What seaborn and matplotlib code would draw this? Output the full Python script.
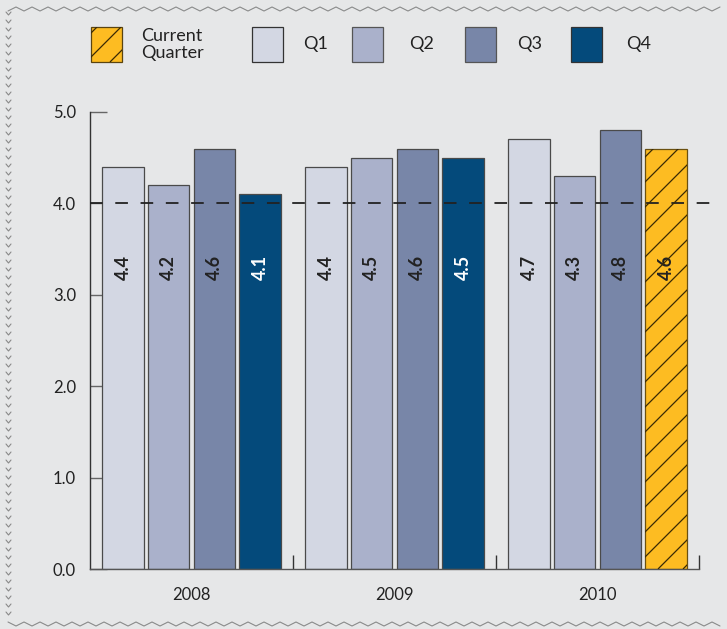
import numpy as np
import pandas as pd
import matplotlib
matplotlib.use("Agg")
import matplotlib.pyplot as plt
from matplotlib.patches import Rectangle
from matplotlib.lines import Line2D
from matplotlib.collections import LineCollection
from matplotlib.transforms import IdentityTransform
import seaborn as sns

years = ["2008", "2009", "2010"]
quarters = ["Q1", "Q2", "Q3", "Q4"]
values_2008 = [4.4, 4.2, 4.6, 4.1]
values_2009 = [4.4, 4.5, 4.6, 4.5]
values_2010 = [4.7, 4.3, 4.8, 4.6]
y_ticks = [0.0, 1.0, 2.0, 3.0, 4.0, 5.0]
target = 4.0
current_year, current_quarter = "2010", "Q4"
legend_labels = ["Current\nQuarter", "Q1", "Q2", "Q3", "Q4"]

df = pd.DataFrame({
    "year": np.repeat(years, 4),
    "quarter": quarters * 3,
    "value": values_2008 + values_2009 + values_2010,
})

colors = {"Q1": "#d3d7e3", "Q2": "#aab1cb", "Q3": "#7886a8", "Q4": "#044a7b"}
cur_color = "#fdbc22"
hatch_color = "#3a2a05"
bg = "#e6e7e8"

sns.set_theme(style="white")
plt.rcParams["font.family"] = ["Lato", "DejaVu Sans"]

W, H = 727, 629
fig = plt.figure(figsize=(W / 100, H / 100), dpi=100, facecolor=bg)

def fx(px):
    return px / W

def fy(py):
    return 1 - py / H

def sparse_hatch(patch, spacing=25, offset=0, lw=0.9):
    """Draw sparse 45-degree hatch lines clipped to a patch (display coords)."""
    fig.canvas.draw()
    bb = patch.get_window_extent()
    x0, y0, x1, y1 = bb.x0, bb.y0, bb.x1, bb.y1
    h = y1 - y0
    segs = []
    c = x0 - h + offset
    while c < x1 + h:
        segs.append([(c, y0), (c + h, y1)])
        c += spacing
    lc = LineCollection(segs, colors=hatch_color, linewidths=lw,
                        transform=IdentityTransform(), zorder=patch.get_zorder() + 0.1)
    fig.add_artist(lc)
    lc.set_clip_path(patch)

ax_l, ax_r, ax_b, ax_t = 90, 715, 569, 112
ax = fig.add_axes([fx(ax_l), fy(ax_b), fx(ax_r) - fx(ax_l), fy(ax_t) - fy(ax_b)])
ax.set_facecolor(bg)

sns.barplot(data=df, x="year", y="value", hue="quarter", order=years,
            hue_order=quarters, palette=colors, width=0.9, gap=0.1,
            dodge=True, legend=False, ax=ax, edgecolor="#4a4a4a", linewidth=0.9,
            saturation=1)

xl = -0.5 + (ax_r - ax_l) / 203
ax.set_xlim(-0.5, xl)
ax.set_ylim(0, 5.0)

cur_bar = None
for container, q in zip(ax.containers, quarters):
    for bar, yr in zip(container, years):
        val = bar.get_height()
        is_cur = (yr == current_year and q == current_quarter)
        if is_cur:
            bar.set_facecolor(cur_color)
            bar.set_edgecolor("#6a5010")
            cur_bar = bar
        tc = "white" if (q == "Q4" and not is_cur) else "#222222"
        ax.text(bar.get_x() + bar.get_width() / 2, 3.3, f"{val:.1f}",
                rotation=90, ha="center", va="center", color=tc,
                fontsize=13, fontweight="bold", zorder=6)

ax.axhline(target, color="#222222", lw=1.3, ls=(0, (7, 7)), zorder=5)

for s in ["top", "right"]:
    ax.spines[s].set_visible(False)
ax.spines["left"].set_color("#333333")
ax.spines["left"].set_linewidth(1.0)
ax.spines["bottom"].set_color("#555555")
ax.spines["bottom"].set_linewidth(1.0)
ax.spines["bottom"].set_bounds(-0.5, 2.5)

ax.set_yticks(y_ticks)
ax.set_yticklabels([f"{t:.1f}" for t in y_ticks], fontsize=12, color="#222222")
ax.tick_params(axis="y", direction="in", length=12, width=1.0, color="#666666",
               pad=10, left=True)
ax.set_xticks([0, 1, 2])
ax.set_xticklabels(years, fontsize=12, color="#222222")
ax.tick_params(axis="x", which="major", length=0, pad=13)
ax.set_xticks([0.5, 1.5, 2.5], minor=True)
ax.tick_params(axis="x", which="minor", direction="in", length=10, width=1.0,
               color="#333333", bottom=True)
ax.set_xlabel("")
ax.set_ylabel("")
ax.grid(False)

# legend (manual, figure coordinates)
leg_items = [
    (91, cur_color, "#5a4410", 141, legend_labels[0]),
    (252, colors["Q1"], "#333333", 303, legend_labels[1]),
    (352, colors["Q2"], "#555555", 409, legend_labels[2]),
    (465, colors["Q3"], "#555555", 517, legend_labels[3]),
    (571, colors["Q4"], "#333333", 626, legend_labels[4]),
]
leg_patches = []
for px, fc, ec, tx, lab in leg_items:
    r = Rectangle((fx(px), fy(62)), fx(31), fy(27) - fy(62), facecolor=fc,
                  edgecolor=ec, lw=0.9, transform=fig.transFigure)
    fig.add_artist(r)
    leg_patches.append(r)
    fig.text(fx(tx), fy(44.5), lab, ha="left", va="center", fontsize=13,
             color="#222222", linespacing=1.05)

sparse_hatch(cur_bar, spacing=25, offset=8)
sparse_hatch(leg_patches[0], spacing=24, offset=6)

zc = "#8a8a8a"
xs = np.arange(8, W, 8)
ys = np.where((np.arange(len(xs)) % 2) == 0, 11, 7)
fig.add_artist(Line2D(fx(xs), fy(ys), color=zc, lw=0.8, transform=fig.transFigure))
ys = np.where((np.arange(len(xs)) % 2) == 0, 622, 626)
fig.add_artist(Line2D(fx(xs), fy(ys), color=zc, lw=0.8, transform=fig.transFigure))
for yy in np.arange(12, 620, 8):
    fig.add_artist(Line2D([fx(6), fx(8.5), fx(11)], [fy(yy), fy(yy + 3), fy(yy)],
                          color=zc, lw=0.8, transform=fig.transFigure))

fig.savefig("out.png", dpi=100, facecolor=bg)
